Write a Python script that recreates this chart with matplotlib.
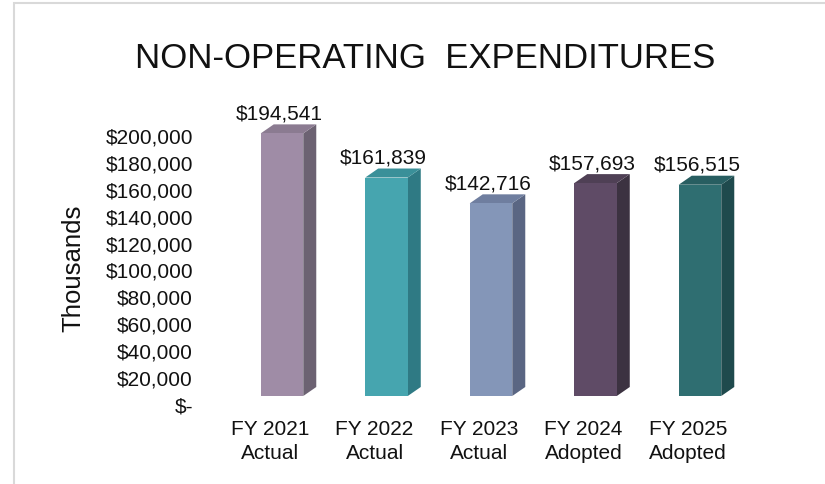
import matplotlib
matplotlib.use("Agg")
import matplotlib.pyplot as plt
from matplotlib.patches import Polygon, Rectangle

plt.rcParams['font.family'] = ['Liberation Sans', 'DejaVu Sans']

categories = ["FY 2021\nActual", "FY 2022\nActual", "FY 2023\nActual",
              "FY 2024\nAdopted", "FY 2025\nAdopted"]
values = [194541, 161839, 142716, 157693, 156515]
yticks = [0, 20000, 40000, 60000, 80000, 100000, 120000, 140000, 160000, 180000, 200000]
title = "NON-OPERATING  EXPENDITURES"
ylabel = "Thousands"

front_colors = ["#9f8ca6", "#46a5af", "#8496b8", "#5f4b66", "#2f6e71"]
side_colors = ["#6c6272", "#2f7a84", "#5a6683", "#3c3241", "#1f4a4d"]
top_colors = ["#8b7b91", "#3a9099", "#6f7e9f", "#4f4055", "#285e61"]

W, H = 825, 485
fig = plt.figure(figsize=(W / 100, H / 100), dpi=100)


def px(x0, y_top, w, h):
    return [x0 / W, 1 - (y_top + h) / H, w / W, h / H]


# outer frame (partially visible)
fig.patches.append(Rectangle((14 / W, -0.2), 1.5, 1.2 - 4 / H, transform=fig.transFigure,
                             fill=False, edgecolor="#d9d9d9", linewidth=1.5))

ax = fig.add_axes(px(229.75, 127, 522.5, 270))
ax.set_xlim(-0.5, 4.5)
ax.set_ylim(0, 200000)
for s in ax.spines.values():
    s.set_visible(False)
ax.set_xticks([])
ax.set_yticks([])
ax.patch.set_alpha(0)

bw = 0.407
dx = 13 / 104.5
dy = 9 / 270 * 200000
xs = list(range(len(values)))
ax.bar(xs, values, width=bw, color=front_colors, zorder=3, clip_on=False)
for i, v in enumerate(values):
    r = i + bw / 2
    l = i - bw / 2
    ax.add_patch(Polygon([(r, 0), (r + dx, dy), (r + dx, v + dy), (r, v)],
                         closed=True, facecolor=side_colors[i], edgecolor="none",
                         zorder=2, clip_on=False))
    ax.add_patch(Polygon([(l, v), (r, v), (r + dx, v + dy), (l + dx, v + dy)],
                         closed=True, facecolor=top_colors[i], edgecolor="none",
                         zorder=2, clip_on=False))
    ax.annotate(f"${v:,}", xy=(i, v), xytext=(-2, 10.8), textcoords="offset points",
                ha="center", va="baseline", fontsize=15, color="#111111")
    ax.annotate(categories[i], xy=(i, 0), xycoords=("data", "axes fraction"),
                xytext=(-8.6, -16.5), textcoords="offset points",
                ha="center", va="top", fontsize=15, color="#111111", linespacing=1.35)

# value axis labels (on the back wall)
ax2 = fig.add_axes(px(193, 136, 1, 269))
ax2.set_ylim(0, 200000)
ax2.set_yticks(yticks)
ax2.set_yticklabels(["$-" if t == 0 else f"${t:,}" for t in yticks])
ax2.tick_params(axis="y", length=0, pad=0, labelsize=15, labelcolor="#111111")
ax2.set_xticks([])
for s in ax2.spines.values():
    s.set_visible(False)
ax2.patch.set_alpha(0)

fig.text(73 / W, 1 - 268 / H, ylabel, rotation=90, ha="center", va="center",
         fontsize=18.5, color="#111111")

fig.text(425 / W, 1 - 68 / H, title, ha="center", va="baseline", fontsize=25,
         color="#111111")

fig.savefig("out.png", dpi=100, facecolor="white")
